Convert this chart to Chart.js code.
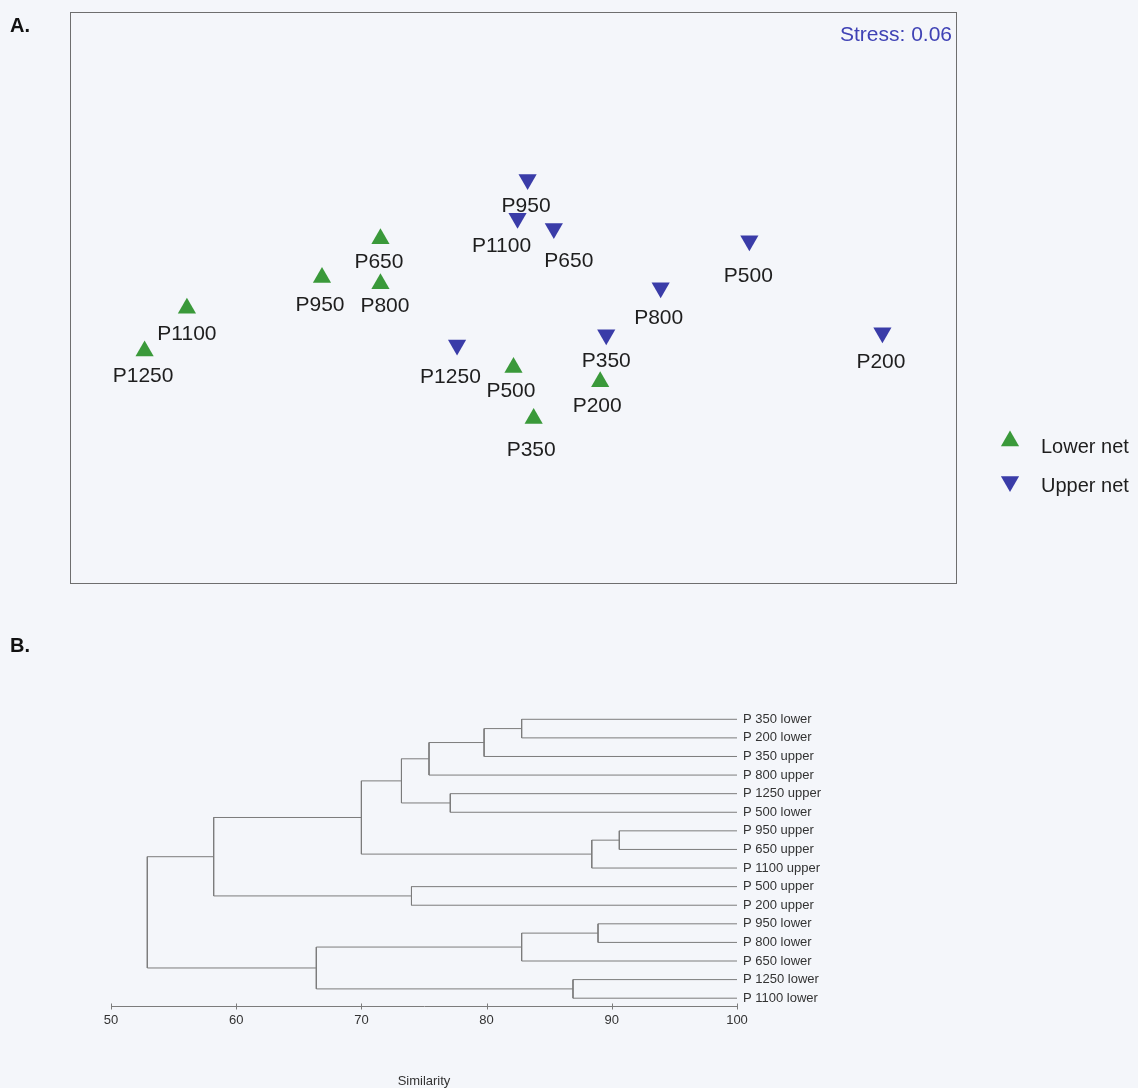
<!DOCTYPE html>
<html>
<head>
<meta charset="utf-8">
<title>Zooplankton assemblages: NMDS ordination and cluster dendrogram</title>
<script src="https://cdn.jsdelivr.net/npm/chart.js@4.4.1/dist/chart.umd.min.js"></script>
<style>
  html, body { margin: 0; padding: 0; background: #f4f6fa; }
  body { width: 1138px; height: 1088px; position: relative; overflow: hidden; }
  #ordination { position: absolute; left: 0; top: 0; }
  #dendrogram { position: absolute; left: 0; top: 630px; }
</style>
</head>
<body>
<canvas id="ordination" width="1138" height="600"></canvas>
<canvas id="dendrogram" width="1138" height="458"></canvas>
<script>
// ---------- Panel A: NMDS ordination of stations ----------
const stressValue = 0.06;

const lowerSites = ['P650', 'P950', 'P800', 'P1100', 'P1250', 'P500', 'P200', 'P350'];
const lowerX     = [-0.66, -0.95, -0.66, -1.62, -1.83, 0.00, 0.43, 0.10];
const lowerY     = [0.29, 0.10, 0.07, -0.05, -0.26, -0.34, -0.41, -0.59];

const upperSites = ['P950', 'P1100', 'P650', 'P500', 'P800', 'P350', 'P200', 'P1250'];
const upperX     = [0.07, 0.02, 0.20, 1.17, 0.73, 0.46, 1.83, -0.28];
const upperY     = [0.58, 0.39, 0.34, 0.28, 0.05, -0.18, -0.17, -0.23];

// ---------- Panel B: group-average cluster dendrogram ----------
const leafLabels = ['P 350 lower', 'P 200 lower', 'P 350 upper', 'P 800 upper',
                    'P 1250 upper', 'P 500 lower', 'P 950 upper', 'P 650 upper',
                    'P 1100 upper', 'P 500 upper', 'P 200 upper', 'P 950 lower',
                    'P 800 lower', 'P 650 lower', 'P 1250 lower', 'P 1100 lower'];
// merge k creates node 16 + k from nodes mergeLeft[k] and mergeRight[k]
const mergeLeft       = [0, 16, 17, 4, 18, 6, 21, 20, 9, 23, 11, 26, 14, 27, 25];
const mergeRight      = [1, 2, 3, 5, 19, 7, 8, 22, 10, 24, 12, 13, 15, 28, 29];
const mergeSimilarity = [82.8, 79.8, 75.4, 77.1, 73.2, 90.6, 88.4, 70.0, 74.0, 58.2, 88.9, 82.8, 86.9, 66.4, 52.9];
const similarityTicks = [50, 60, 70, 80, 90, 100];

// ---------- styling ----------
const FONT = '"Liberation Sans", Arial, Helvetica, sans-serif';
const CAP = 0.358;                      // half cap-height as a fraction of font size
const GREEN = '#3a993a';
const BLUE = '#3a3ca8';
const MARKER_R = 10.5;
// label placement (dx, dy in px from the marker) keeps names clear of neighbours
const lowerLabelOffsets = [[-1.5, 21.5], [-2, 25.5], [4.5, 20.5], [0, 24], [-1.5, 23], [-2.6, 22.5], [-3, 22.5], [-2.5, 29.5]];
const upperLabelOffsets = [[-1.5, 25], [-16, 26.5], [15, 30.5], [-1, 33.5], [-2, 29], [0, 25], [-1.5, 28], [-6.6, 30.5]];

Chart.defaults.font.family = FONT;

const toPoints = (sites, xs, ys) => sites.map((s, i) => ({ x: xs[i], y: ys[i], site: s }));

const ordinationDecor = {
  id: 'ordinationDecor',
  afterDatasetsDraw(chart) {
    const { ctx, chartArea: a, scales: { x, y } } = chart;
    ctx.save();
    // frame around the ordination space
    ctx.strokeStyle = '#6e6e6e';
    ctx.lineWidth = 1;
    ctx.strokeRect(Math.round(a.left) + 0.5, Math.round(a.top) + 0.5,
                   Math.round(a.width) - 1, Math.round(a.height) - 1);

    // station names under the markers
    ctx.font = `21px ${FONT}`;
    ctx.fillStyle = '#1e1e1e';
    ctx.textAlign = 'center';
    ctx.textBaseline = 'alphabetic';
    chart.data.datasets.forEach(ds => {
      ds.data.forEach((p, i) => {
        const [dx, dy] = ds.labelOffsets[i];
        ctx.fillText(p.site, x.getPixelForValue(p.x) + dx, y.getPixelForValue(p.y) + dy + CAP * 21);
      });
    });

    // stress value
    ctx.fillStyle = '#3f42b5';
    ctx.textAlign = 'right';
    ctx.fillText('Stress: ' + stressValue.toFixed(2), a.right - 5, 33.5 + CAP * 21);

    // legend
    const H = Chart.helpers;
    const rows = [
      { label: chart.data.datasets[0].label, color: GREEN, rot: 0, my: 441, ty: 446 },
      { label: chart.data.datasets[1].label, color: BLUE, rot: 180, my: 481.5, ty: 485 }
    ];
    ctx.font = `20px ${FONT}`;
    ctx.textAlign = 'left';
    rows.forEach(r => {
      ctx.fillStyle = r.color;
      H.drawPoint(ctx, { pointStyle: 'triangle', rotation: r.rot, radius: MARKER_R, borderWidth: 0 }, 1010, r.my);
      ctx.fillStyle = '#1e1e1e';
      ctx.fillText(r.label, 1041, r.ty + CAP * 20);
    });

    // panel letter
    ctx.font = `bold 20px ${FONT}`;
    ctx.fillStyle = '#111';
    ctx.fillText('A.', 10, 24.5 + CAP * 20);
    ctx.restore();
  }
};

new Chart(document.getElementById('ordination'), {
  type: 'scatter',
  data: {
    datasets: [
      {
        label: 'Lower net',
        data: toPoints(lowerSites, lowerX, lowerY),
        labelOffsets: lowerLabelOffsets,
        pointStyle: 'triangle',
        pointRotation: 0,
        pointRadius: MARKER_R,
        pointBackgroundColor: GREEN,
        pointBorderWidth: 0
      },
      {
        label: 'Upper net',
        data: toPoints(upperSites, upperX, upperY),
        labelOffsets: upperLabelOffsets,
        pointStyle: 'triangle',
        pointRotation: 180,
        pointRadius: MARKER_R,
        pointBackgroundColor: BLUE,
        pointBorderWidth: 0
      }
    ]
  },
  options: {
    responsive: false,
    animation: false,
    devicePixelRatio: 1,
    layout: { padding: { left: 70, top: 12, right: 181, bottom: 16 } },
    plugins: { legend: { display: false }, tooltip: { enabled: false } },
    scales: {
      x: { type: 'linear', min: -2.2, max: 2.2, display: false },
      y: { type: 'linear', min: -1.4, max: 1.4, display: false }
    }
  },
  plugins: [ordinationDecor]
});

// ---------- dendrogram geometry from the merge table ----------
const nodeSim = leafLabels.map(() => 100);
const nodeRow = leafLabels.map((_, i) => i);
const linkSets = mergeSimilarity.map((s, k) => {
  const L = mergeLeft[k], R = mergeRight[k];
  nodeSim.push(s);
  nodeRow.push((nodeRow[L] + nodeRow[R]) / 2);
  return {
    data: [
      { x: nodeSim[L], y: nodeRow[L] },
      { x: s, y: nodeRow[L] },
      { x: s, y: nodeRow[R] },
      { x: nodeSim[R], y: nodeRow[R] }
    ],
    showLine: true,
    borderColor: '#7c7c7c',
    borderWidth: 1,
    pointRadius: 0,
    clip: false
  };
});

const dendroDecor = {
  id: 'dendroDecor',
  afterDraw(chart) {
    const { ctx, scales: { x } } = chart;
    const axisY = Math.round(x.top) + 0.5;
    ctx.save();
    ctx.strokeStyle = '#7c7c7c';
    ctx.lineWidth = 1;
    x.ticks.forEach(t => {
      const px = Math.round(x.getPixelForValue(t.value)) + 0.5;
      ctx.beginPath();
      ctx.moveTo(px, axisY - 3);
      ctx.lineTo(px, axisY + 3);
      ctx.stroke();
    });
    ctx.font = `bold 20px ${FONT}`;
    ctx.fillStyle = '#111';
    ctx.textAlign = 'left';
    ctx.textBaseline = 'alphabetic';
    ctx.fillText('B.', 10, 15 + CAP * 20);
    ctx.restore();
  }
};

new Chart(document.getElementById('dendrogram'), {
  type: 'scatter',
  data: { datasets: linkSets },
  options: {
    responsive: false,
    animation: false,
    devicePixelRatio: 1,
    layout: { padding: { left: 111, top: 80, right: 0, bottom: 0 } },
    plugins: { legend: { display: false }, tooltip: { enabled: false } },
    scales: {
      x: {
        type: 'linear',
        position: 'bottom',
        min: 50,
        max: 100,
        afterBuildTicks(scale) { scale.ticks = similarityTicks.map(v => ({ value: v })); },
        ticks: { autoSkip: false, padding: 7, color: '#333', font: { size: 13 }, maxRotation: 0 },
        grid: { display: false, drawTicks: false },
        border: { display: true, color: '#7c7c7c', width: 1 },
        title: { display: true, text: 'Similarity', color: '#333', font: { size: 13, lineHeight: 1 }, padding: { top: 0, bottom: 0 } },
        afterFit(scale) { scale.height = 82; }
      },
      y: {
        type: 'linear',
        position: 'right',
        reverse: true,
        min: -0.5,
        max: 15.42,
        afterBuildTicks(scale) { scale.ticks = leafLabels.map((_, i) => ({ value: i })); },
        ticks: { autoSkip: false, padding: 6, color: '#333', font: { size: 13 }, callback: v => leafLabels[v] },
        grid: { display: false, drawTicks: false },
        border: { display: false },
        afterFit(scale) { scale.width = 1138 - 737; }
      }
    }
  },
  plugins: [dendroDecor]
});
</script>
</body>
</html>
